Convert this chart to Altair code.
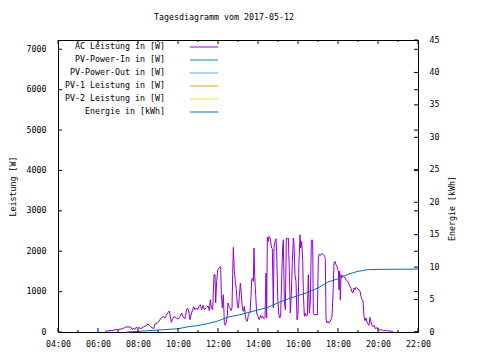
import altair as alt
import pandas as pd

# ---------------- data ----------------
ac_time = [
    "06:21","06:24","06:27","06:30","06:36","06:42","06:48","06:54","07:00","07:06",
    "07:12","07:18","07:22","07:30","07:38","07:43","07:46","07:50","07:54","07:58",
    "08:02","08:06","08:12","08:18","08:24","08:30","08:34","08:38","08:42","08:47",
    "08:51","08:57","09:03","09:08","09:13","09:17","09:21","09:25","09:30","09:34",
    "09:37","09:40","09:44","09:48",
    "09:51","09:56","10:01","10:06","10:11","10:16","10:21","10:26","10:29","10:33",
    "10:36","10:39","10:43","10:47","10:51","10:55","10:59","11:03","11:07","11:11",
    "11:15","11:19","11:23","11:27","11:31","11:34","11:37","11:40","11:44","11:48",
    "11:51","11:53","11:56","11:59","12:02","12:05","12:08","12:10","12:13","12:16",
    "12:19","12:22","12:25","12:28","12:30","12:33","12:36","12:39","12:42","12:44",
    "12:46","12:49","12:52","12:55","12:58","13:01","13:04","13:07","13:10","13:13",
    "13:16","13:19","13:22","13:25","13:28","13:31","13:34",
    "13:36","13:39","13:41","13:44","13:46","13:48","13:50","13:52","13:54","13:56",
    "14:00","14:04","14:08","14:11","14:14","14:18","14:21","14:24","14:26","14:28",
    "14:31","14:33","14:36","14:38","14:41","14:43","14:46","14:48","14:51","14:54",
    "14:56","14:59","15:02","15:05","15:08","15:11","15:14","15:16","15:19","15:22",
    "15:25","15:28","15:31","15:34","15:37","15:40","15:43","15:46","15:48","15:51",
    "15:54","15:57","16:00","16:03","16:06","16:08","16:11","16:14","16:16","16:19",
    "16:22","16:25","16:28","16:31","16:34","16:37","16:40","16:42","16:44","16:46",
    "16:50","16:54","16:58","17:01","17:04","17:08","17:12","17:16","17:20","17:22",
    "17:24","17:27","17:30","17:33","17:36","17:39","17:42","17:45","17:48","17:51",
    "17:54","17:57","17:59","18:01","18:03","18:05","18:07","18:09","18:11","18:14",
    "18:17","18:21","18:25","18:29","18:33","18:36","18:39","18:42","18:45","18:48",
    "18:51","18:54","18:57","19:00","19:03","19:06","19:09","19:12","19:15","19:18",
    "19:21","19:24","19:27","19:30","19:33","19:36","19:39","19:42","19:45","19:48",
    "19:51","19:54","19:57","20:01","20:06","20:11","20:16","20:21","20:26","20:31",
    "20:36","20:41","20:46",
]
ac_watt = [
    10, 33, 10, 25, 41, 33, 50, 58, 58, 74,
    74, 99, 124, 124, 124, 58, 99, 58, 116, 99,
    124, 83, 99, 132, 157, 198, 165, 132, 107, 83,
    198, 215, 264, 338, 363, 388, 347, 413, 479, 520,
    388, 239, 330, 380,
    363, 338, 322, 388, 470, 363, 330, 553, 594, 470,
    305, 413, 528, 627, 553, 594, 553, 635, 677, 553,
    660, 553, 594, 627, 635, 528, 800, 594, 553, 1419,
    1419, 718, 1254, 1518, 1584, 1600, 1625, 924, 594, 924,
    223, 165, 239, 413, 718, 635, 594, 528, 594, 1419,
    2096, 1502, 1254, 1048, 660, 594, 883, 1213, 924, 594,
    512, 635, 388, 281, 264, 413, 470,
    487, 883, 1296, 1337, 1254, 2079, 1419, 1089, 759, 470,
    388, 305, 413, 347, 388, 330, 363, 1461, 347, 2343,
    2244, 2368, 2327, 2244, 2079, 2063, 594, 2079, 2244, 2310,
    1997, 883, 470, 347, 388, 1337, 2079, 2285, 759, 553,
    2327, 2310, 2327, 1502, 470, 924, 1749, 2327, 2203, 1419,
    1254, 305, 429, 1749, 2409, 2079, 2244, 1790, 1007, 388,
    470, 388, 413, 1419, 470, 759, 2244, 2285, 2228, 470,
    413, 446, 413, 1832, 1930, 1897, 1947, 1914, 1873, 1790,
    347, 223, 264, 223, 264, 305, 388, 924, 1708, 1749,
    1667, 1625, 1543, 1518, 1048, 1502, 800, 1419, 1337, 1403,
    1378, 1337, 1271, 1254, 1188, 1131, 1073, 990, 965, 1089,
    1048, 1106, 1089, 1065, 1040, 1007, 883, 800, 776, 388,
    281, 347, 248, 198, 165, 363, 248, 165, 132, 165,
    99, 83, 116, 58, 50, 58, 33, 41, 25, 33,
    25, 17, 0,
]

energy_time = ["07:26","08:00","08:30","09:00","09:30","10:00","10:30","11:00","11:30",
               "12:00","12:30","13:00","13:30","14:00","14:30","15:00","15:30","16:00",
               "16:30","17:00","17:30","18:00","18:30","19:00","19:30","20:00","22:00"]
energy_kwh = [0.0, 0.1, 0.2, 0.3, 0.4, 0.5, 0.8, 1.0, 1.3,
              1.7, 2.3, 2.6, 3.0, 3.4, 3.8, 4.5, 5.1, 5.6,
              6.1, 6.8, 7.7, 8.2, 8.9, 9.35, 9.6, 9.65, 9.7]

legend_labels = ["AC Leistung in [W]", "PV-Power-In in [W]", "PV-Power-Out in [W]",
                 "PV-1 Leistung in [W]", "PV-2 Leistung in [W]", "Energie in [kWh]"]
legend_colors = ["#9400d3", "#009e73", "#56b4e9", "#e69f00", "#f0e442", "#0072b2"]

x_label_hours = [4, 6, 8, 10, 12, 14, 16, 18, 20, 22]
x_minor_hours = [5, 7, 9, 11, 13, 15, 17, 19, 21]
y_ticks = [0, 1000, 2000, 3000, 4000, 5000, 6000, 7000]
y2_ticks = [0, 5, 10, 15, 20, 25, 30, 35, 40, 45]

TITLE = "Tagesdiagramm vom 2017-05-12"
FONT = "DejaVu Sans Mono"
FS = 8.3
W, H = 360, 292


def to_hour(s):
    h, m = s.split(":")
    return int(h) + int(m) / 60.0


ac_df = pd.DataFrame({"hour": [to_hour(t) for t in ac_time], "watt": ac_watt})
en_df = pd.DataFrame({"hour": [to_hour(t) for t in energy_time], "kwh": energy_kwh})

xscale = alt.Scale(domain=[4, 22], nice=False, zero=False)
yscale = alt.Scale(domain=[0, 7230], nice=False)
y2scale = alt.Scale(domain=[0, 45], nice=False)

x_axis = alt.Axis(values=x_label_hours, title=None, ticks=False, domain=False, grid=False,
                  labelExpr="(datum.value < 10 ? '0' : '') + datum.value + ':00'",
                  labelFlush=False, labelOverlap=False, labelPadding=7)

ac = alt.Chart(ac_df).mark_line(color=legend_colors[0], strokeWidth=1).encode(
    x=alt.X("hour:Q", scale=xscale, axis=x_axis),
    y=alt.Y("watt:Q", scale=yscale,
            axis=alt.Axis(orient="left", values=y_ticks, format="d", ticks=False, domain=False,
                          grid=False, labelPadding=12, title="Leistung [W]", titleAngle=270,
                          titleX=-45, titleY=146, titleBaseline="middle", titleAlign="center")),
)

energy = alt.Chart(en_df).mark_line(color=legend_colors[5], strokeWidth=1).encode(
    x=alt.X("hour:Q", scale=xscale, axis=x_axis),
    y=alt.Y("kwh:Q", scale=y2scale,
            axis=alt.Axis(orient="right", values=y2_ticks, format="d", ticks=False, domain=False,
                          grid=False, labelPadding=11, title="Energie [kWh]", titleAngle=270,
                          titleX=34, titleY=168, titleBaseline="middle", titleAlign="center")),
)

layers = [ac, energy]

# inward tick marks (gnuplot style)
maj_df = pd.DataFrame({"hour": x_label_hours})
min_df = pd.DataFrame({"hour": x_minor_hours})
for df, ln in [(maj_df, 4), (min_df, 2)]:
    layers.append(alt.Chart(df).mark_rule(color="black", strokeWidth=1).encode(
        x=alt.X("hour:Q", scale=xscale, axis=x_axis),
        y=alt.value(H), y2=alt.value(H - ln)))
    layers.append(alt.Chart(df).mark_rule(color="black", strokeWidth=1).encode(
        x=alt.X("hour:Q", scale=xscale, axis=x_axis),
        y=alt.value(0), y2=alt.value(ln)))

yt_df = pd.DataFrame({"v": y_ticks})
y2t_df = pd.DataFrame({"v": y2_ticks})
layers.append(alt.Chart(yt_df).mark_rule(color="black", strokeWidth=1).encode(
    y=alt.Y("v:Q", scale=yscale, axis=None), x=alt.value(0), x2=alt.value(4)))
layers.append(alt.Chart(yt_df).mark_rule(color="black", strokeWidth=1).encode(
    y=alt.Y("v:Q", scale=yscale, axis=None), x=alt.value(W), x2=alt.value(W - 4)))
layers.append(alt.Chart(y2t_df).mark_rule(color="black", strokeWidth=1).encode(
    y=alt.Y("v:Q", scale=y2scale, axis=None), x=alt.value(W), x2=alt.value(W - 4)))

# key inside the plot, text right-aligned with the sample line to the right
for i, (lab, col) in enumerate(zip(legend_labels, legend_colors)):
    ypix = 7 + 13 * i
    layers.append(alt.Chart(pd.DataFrame({"label": [lab]})).mark_text(
        align="right", baseline="middle", font=FONT, fontSize=FS, color="black").encode(
        x=alt.value(107), y=alt.value(ypix), text="label:N"))
    layers.append(alt.Chart(pd.DataFrame({"label": [lab]})).mark_rule(
        color=col, strokeWidth=1).encode(
        x=alt.value(132), x2=alt.value(160), y=alt.value(ypix)))

# chart title (gnuplot places it a bit left of the plot centre)
layers.append(alt.Chart(pd.DataFrame({"t": [TITLE]})).mark_text(
    align="center", baseline="middle", font=FONT, fontSize=FS, color="black").encode(
    x=alt.value(166), y=alt.value(-22), text="t:N"))

chart = alt.layer(*layers).resolve_scale(y="independent").properties(
    width=W, height=H,
    autosize=alt.AutoSizeParams(type="none"),
    padding={"left": 50, "top": 32, "right": 54, "bottom": 20},
    background="white",
).configure_view(stroke="black", strokeWidth=1).configure_axis(
    labelFont=FONT, labelFontSize=FS, labelColor="black",
    titleFont=FONT, titleFontSize=FS, titleFontWeight="normal", titleColor="black",
)

chart.save("out.html", embed_options={"renderer": "svg", "actions": False})
